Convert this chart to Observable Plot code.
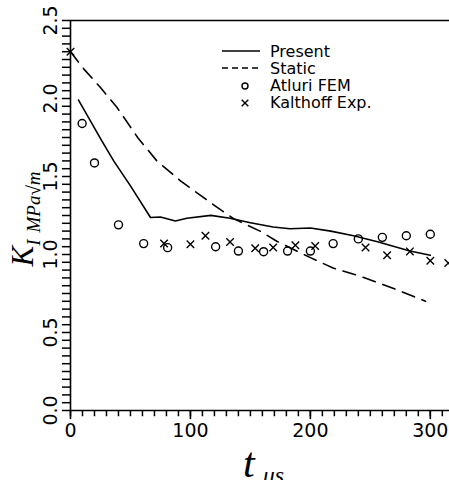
<!DOCTYPE html>
<html><head><meta charset="utf-8">
<script src="https://cdn.jsdelivr.net/npm/d3@7"></script>
<script src="https://cdn.jsdelivr.net/npm/@observablehq/plot@0.6"></script>
<style>html,body{margin:0;padding:0;background:#fff;overflow:hidden}</style>
</head><body><div id="chart"></div>
<script>
// Present (solid line)
const presentT = [6.7, 26, 36, 50, 66.7, 75, 87.5, 97, 117, 133, 150, 169, 183, 200, 217, 236, 256, 283, 300];
const presentK = [1.99, 1.73, 1.60, 1.44, 1.237, 1.24, 1.215, 1.232, 1.251, 1.232, 1.204, 1.176, 1.165, 1.17, 1.15, 1.12, 1.082, 1.022, 0.995];
// Static (dashed line)
const staticT = [0, 11, 25, 39, 56, 72, 92, 119, 136, 158, 172, 200, 219, 242, 270, 296];
const staticK = [2.30, 2.19, 2.07, 1.94, 1.75, 1.60, 1.47, 1.32, 1.23, 1.15, 1.085, 0.98, 0.913, 0.86, 0.78, 0.70];
// Atluri FEM (circles)
const atluriT = [9.7, 20, 40, 61, 81, 121, 140, 161, 181, 200, 219, 240, 260, 280, 300];
const atluriK = [1.84, 1.587, 1.19, 1.07, 1.044, 1.05, 1.022, 1.018, 1.022, 1.022, 1.07, 1.10, 1.11, 1.12, 1.13];
// Kalthoff Exp. (crosses)
const kalthoffT = [0, 78, 100, 112.5, 133, 154, 169, 187.5, 204, 246, 264, 283, 300, 315];
const kalthoffK = [2.30, 1.07, 1.065, 1.12, 1.08, 1.04, 1.045, 1.06, 1.055, 1.045, 0.995, 1.02, 0.96, 0.945];

const xMajorTicks = [0, 100, 200, 300];
const xTickLabels = ["0", "100", "200", "300"];
const xMinorTicks = d3.range(0, 316, 10);
const yMajorTicks = [0, 0.5, 1, 1.5, 2, 2.5];
const yTickLabels = ["0.0", "0.5", "1.0", "1.5", "2.0", "2.5"];
const yMinorTicks = d3.range(0, 2.5001, 0.05);
const legendLabels = ["Present", "Static", "Atluri FEM", "Kalthoff Exp."];

const zip = (T, K) => T.map((t, i) => ({t, k: K[i]}));
const present = zip(presentT, presentK);
const stat = zip(staticT, staticK);
const atluri = zip(atluriT, atluriK);
const kalthoff = zip(kalthoffT, kalthoffK);

const plot = Plot.plot({
  width: 449, height: 480,
  marginLeft: 70, marginRight: 0, marginTop: 20, marginBottom: 70,
  style: {fontFamily: "DejaVu Sans", fontSize: "19px", background: "white", color: "black"},
  x: {domain: [0, 316], axis: null},
  y: {domain: [0, 2.5], axis: null},
  marks: [
    // tick marks (lengths in data units, outside the frame)
    Plot.ruleX(xMinorTicks, {x: d => d, y1: 0, y2: -0.04, stroke: "black", strokeWidth: 1.5}),
    Plot.ruleX(xMajorTicks, {x: d => d, y1: 0, y2: -0.058, stroke: "black", strokeWidth: 1.6}),
    Plot.ruleY(yMinorTicks, {y: d => d, x1: 0, x2: -6.7, stroke: "black", strokeWidth: 1.5}),
    Plot.text(xMajorTicks, {x: d => d, text: (d, i) => xTickLabels[i], frameAnchor: "bottom", dy: 13,
      lineAnchor: "top", textAnchor: "middle", fontSize: 19}),
    Plot.text(yMajorTicks, {y: d => d, text: (d, i) => yTickLabels[i], frameAnchor: "left", dx: -20,
      rotate: -90, textAnchor: "middle", lineAnchor: "middle", fontSize: 19}),
    Plot.ruleX([0], {strokeWidth: 1.6}),
    Plot.ruleY([0], {strokeWidth: 1.6}),
    Plot.ruleY([2.5], {strokeWidth: 1.6}),
    Plot.line(present, {x: "t", y: "k", stroke: "black", strokeWidth: 1.6}),
    Plot.line(stat, {x: "t", y: "k", stroke: "black", strokeWidth: 1.6, strokeDasharray: "13,8"}),
    Plot.dot(atluri, {x: "t", y: "k", r: 4, stroke: "black", strokeWidth: 1.4, fill: "none"}),
    Plot.dot(kalthoff, {x: "t", y: "k", r: 3.5, symbol: "times", stroke: "black", strokeWidth: 1.4})
  ]
});
document.getElementById("chart").appendChild(plot);

const svg = d3.select(plot);
// Y axis title
const yl = svg.append("text").attr("transform", "translate(33,219) rotate(-90)")
  .attr("text-anchor", "middle").attr("font-family", "Liberation Serif").attr("font-style", "italic").attr("fill", "black");
yl.append("tspan").attr("font-size", 31).text("K");
yl.append("tspan").attr("font-size", 19).attr("dy", 7).text("I");
yl.append("tspan").attr("font-size", 19).attr("dx", 7).text("MPa√m");
// X axis title
const xl = svg.append("text").attr("x", 243).attr("y", 477).attr("text-anchor", "start")
  .attr("font-family", "Liberation Serif").attr("font-style", "italic").attr("fill", "black");
xl.append("tspan").attr("font-size", 42).text("t");
xl.append("tspan").attr("font-size", 24).attr("dx", 8).attr("dy", 6).text("μs");
// Legend
const lg = svg.append("g").attr("font-family", "DejaVu Sans").attr("font-size", 16).attr("fill", "black").attr("text-anchor", "start");
const rows = [51, 68, 85, 102];
lg.append("line").attr("x1", 222).attr("x2", 260).attr("y1", rows[0]).attr("y2", rows[0]).attr("stroke", "black").attr("stroke-width", 1.6);
lg.append("line").attr("x1", 222).attr("x2", 260).attr("y1", rows[1]).attr("y2", rows[1]).attr("stroke", "black").attr("stroke-width", 1.6).attr("stroke-dasharray", "6,4");
lg.append("circle").attr("cx", 245).attr("cy", rows[2] + 1).attr("r", 3).attr("fill", "none").attr("stroke", "black").attr("stroke-width", 1.4);
lg.append("path").attr("d", d3.symbol(d3.symbolTimes, 30)()).attr("transform", `translate(245,${rows[3] + 1})`).attr("fill", "none").attr("stroke", "black").attr("stroke-width", 1.4);
legendLabels.forEach((s, i) => {
  lg.append("text").attr("x", 270).attr("y", rows[i] + 6).attr("text-anchor", "start").text(s);
});
</script>
</body></html>
